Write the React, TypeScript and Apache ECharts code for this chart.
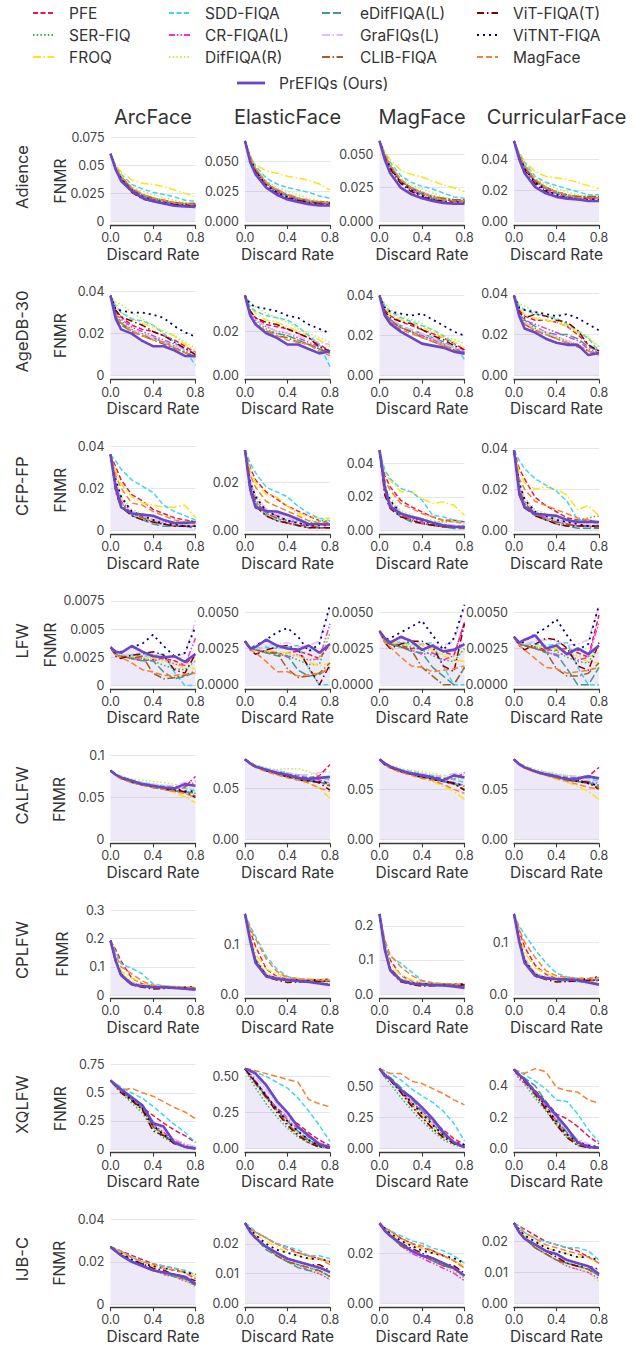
import React, { useEffect, useRef } from "react";
import * as echarts from "echarts";

// ---------------- data ----------------
const DISCARD_RATES = [0, 0.05, 0.1, 0.2, 0.3, 0.4, 0.5, 0.6, 0.7, 0.8];
const X_TICK_LABELS = ["0.0", "0.4", "0.8"];
const MODELS = ["ArcFace", "ElasticFace", "MagFace", "CurricularFace"];
const DATASETS = ["Adience", "AgeDB-30", "CFP-FP", "LFW", "CALFW", "CPLFW", "XQLFW", "IJB-C"];
const METHODS = [
  "PFE", "SER-FIQ", "FROQ", "SDD-FIQA", "CR-FIQA(L)", "DifFIQA(R)",
  "eDifFIQA(L)", "GraFIQs(L)", "CLIB-FIQA", "ViT-FIQA(T)", "ViTNT-FIQA", "MagFace", "PrEFIQs (Ours)",
];

// y tick labels [dataset][model]
const Y_TICK_LABELS = [
  [["0", "0.025", "0.05", "0.075"], ["0.000", "0.025", "0.050"], ["0.000", "0.025", "0.050"], ["0.00", "0.02", "0.04"]],
  [["0", "0.02", "0.04"], ["0.00", "0.02"], ["0.00", "0.02", "0.04"], ["0.00", "0.02", "0.04"]],
  [["0", "0.02", "0.04"], ["0.00", "0.02"], ["0.00", "0.02", "0.04"], ["0.00", "0.02", "0.04"]],
  [["0", "0.0025", "0.005", "0.0075"], ["0.0000", "0.0025", "0.0050"], ["0.0000", "0.0025", "0.0050"], ["0.0000", "0.0025", "0.0050"]],
  [["0", "0.05", "0.1"], ["0.00", "0.05"], ["0.00", "0.05"], ["0.00", "0.05"]],
  [["0", "0.1", "0.2", "0.3"], ["0.0", "0.1"], ["0.0", "0.1", "0.2"], ["0.0", "0.1"]],
  [["0", "0.25", "0.5", "0.75"], ["0.00", "0.25", "0.50"], ["0.00", "0.25", "0.50"], ["0.0", "0.2", "0.4"]],
  [["0", "0.02", "0.04"], ["0.00", "0.01", "0.02"], ["0.00", "0.02"], ["0.00", "0.01", "0.02"]],
];

// FNMR per method (METHODS order) at DISCARD_RATES
const ADIENCE_ARCFACE = [
  [.06, .047, .039, .029, .023, .02, .018, .016, .015, .015],
  [.06, .048, .04, .03, .024, .021, .019, .017, .016, .016],
  [.06, .05, .044, .037, .034, .033, .031, .028, .025, .022],
  [.06, .049, .042, .033, .029, .026, .024, .022, .019, .018],
  [.06, .047, .039, .029, .023, .019, .017, .015, .014, .014],
  [.06, .049, .041, .031, .027, .024, .021, .019, .017, .016],
  [.06, .047, .039, .029, .023, .02, .018, .016, .015, .015],
  [.06, .048, .04, .03, .025, .021, .019, .017, .016, .016],
  [.06, .047, .039, .029, .024, .021, .019, .017, .016, .016],
  [.06, .046, .037, .026, .02, .018, .016, .015, .015, .015],
  [.06, .047, .038, .028, .022, .019, .017, .015, .014, .014],
  [.06, .048, .04, .03, .024, .021, .019, .017, .016, .015],
  [.06, .046, .036, .027, .021, .018, .016, .014, .0135, .013],
];
const ADIENCE_ELASTICFACE = [
  [.067, .052, .043, .031, .025, .021, .018, .016, .015, .015],
  [.067, .053, .044, .032, .026, .022, .019, .017, .016, .016],
  [.067, .054, .047, .042, .04, .0375, .036, .034, .031, .026],
  [.067, .054, .046, .036, .031, .028, .026, .024, .021, .019],
  [.067, .052, .043, .031, .024, .02, .017, .015, .014, .014],
  [.067, .053, .045, .034, .028, .025, .022, .019, .017, .016],
  [.067, .052, .043, .031, .025, .021, .018, .016, .015, .015],
  [.067, .053, .044, .033, .027, .023, .02, .018, .016, .016],
  [.067, .052, .043, .032, .026, .022, .019, .017, .016, .016],
  [.067, .051, .041, .029, .023, .019, .017, .016, .015, .015],
  [.067, .052, .042, .03, .024, .02, .017, .015, .014, .014],
  [.067, .053, .044, .032, .026, .022, .019, .017, .016, .015],
  [.067, .049, .039, .028, .022, .018, .016, .014, .013, .013],
];
const ADIENCE_MAGFACE = [
  [.06, .049, .041, .03, .024, .021, .018, .016, .015, .015],
  [.06, .05, .042, .031, .025, .022, .019, .017, .016, .016],
  [.06, .052, .046, .038, .035, .033, .03, .027, .025, .022],
  [.06, .051, .044, .034, .029, .026, .024, .021, .018, .017],
  [.06, .049, .041, .029, .023, .019, .016, .014, .013, .013],
  [.06, .051, .043, .032, .027, .024, .021, .018, .016, .016],
  [.06, .049, .041, .03, .024, .02, .017, .015, .015, .015],
  [.06, .05, .042, .031, .025, .022, .019, .017, .016, .016],
  [.06, .049, .041, .03, .025, .021, .018, .017, .016, .016],
  [.06, .048, .039, .028, .022, .018, .016, .015, .015, .015],
  [.06, .049, .04, .029, .023, .019, .016, .014, .014, .014],
  [.06, .05, .042, .031, .025, .021, .018, .016, .015, .015],
  [.06, .046, .036, .025, .02, .017, .015, .0135, .013, .013],
];
const ADIENCE_CURRICULARFACE = [
  [.052, .042, .035, .026, .021, .018, .016, .015, .015, .015],
  [.052, .043, .036, .027, .022, .019, .017, .016, .016, .016],
  [.052, .044, .039, .032, .029, .028, .027, .025, .023, .021],
  [.052, .044, .038, .029, .025, .023, .021, .019, .017, .017],
  [.052, .042, .035, .025, .02, .017, .015, .014, .014, .014],
  [.052, .043, .037, .028, .024, .021, .019, .017, .016, .016],
  [.052, .042, .035, .026, .021, .018, .016, .015, .015, .015],
  [.052, .043, .036, .027, .022, .019, .017, .016, .016, .016],
  [.052, .042, .035, .026, .022, .019, .017, .016, .016, .016],
  [.052, .041, .033, .024, .019, .016, .015, .014, .015, .015],
  [.052, .042, .034, .025, .02, .017, .015, .014, .014, .014],
  [.052, .043, .036, .027, .022, .019, .017, .015, .015, .015],
  [.052, .04, .031, .022, .018, .0157, .0145, .014, .013, .013],
];

const AGEDB_ARCFACE = [
  [.038, .031, .028, .024, .022, .021, .019, .017, .014, .011],
  [.038, .03, .026, .022, .02, .018, .016, .014, .012, .01],
  [.038, .034, .03, .027, .025, .023, .021, .019, .015, .012],
  [.038, .033, .03, .027, .026, .024, .02, .016, .012, .005],
  [.038, .03, .027, .023, .021, .019, .017, .015, .013, .011],
  [.038, .035, .034, .03, .027, .024, .021, .019, .016, .013],
  [.038, .028, .024, .021, .019, .018, .016, .014, .011, .009],
  [.038, .029, .025, .022, .02, .018, .016, .014, .012, .011],
  [.038, .029, .025, .021, .019, .017, .015, .013, .011, .009],
  [.038, .031, .028, .026, .024, .021, .019, .016, .013, .01],
  [.038, .0315, .031, .03, .03, .029, .0275, .0236, .0206, .0185],
  [.038, .029, .025, .021, .019, .017, .016, .013, .011, .009],
  [.038, .027, .022, .02, .0165, .014, .014, .012, .0094, .0092],
];
const AGEDB_ELASTICFACE = [
  [.036, .029, .026, .023, .022, .021, .019, .017, .014, .011],
  [.036, .028, .024, .021, .019, .018, .016, .014, .012, .01],
  [.036, .031, .028, .025, .024, .022, .02, .018, .016, .013],
  [.036, .031, .029, .027, .026, .025, .022, .018, .014, .004],
  [.036, .028, .025, .022, .02, .019, .017, .015, .013, .011],
  [.036, .033, .031, .028, .026, .024, .021, .019, .017, .015],
  [.036, .027, .023, .02, .019, .018, .016, .014, .012, .01],
  [.036, .028, .025, .022, .02, .019, .018, .016, .015, .014],
  [.036, .027, .023, .02, .018, .017, .015, .014, .012, .01],
  [.036, .029, .026, .024, .023, .021, .019, .017, .013, .011],
  [.036, .032, .031, .03, .029, .027, .026, .023, .021, .019],
  [.036, .027, .023, .02, .018, .016, .015, .014, .011, .009],
  [.036, .027, .023, .019, .017, .014, .014, .012, .01, .011],
];
const AGEDB_MAGFACE = [
  [.04, .033, .03, .027, .025, .023, .021, .019, .016, .013],
  [.04, .031, .028, .024, .022, .02, .018, .016, .013, .011],
  [.04, .034, .031, .028, .026, .024, .022, .019, .017, .014],
  [.04, .035, .032, .029, .027, .025, .023, .02, .016, .008],
  [.04, .031, .028, .024, .022, .02, .018, .016, .014, .012],
  [.04, .036, .033, .03, .028, .026, .023, .02, .018, .016],
  [.04, .031, .028, .025, .023, .021, .019, .017, .014, .011],
  [.04, .032, .029, .025, .023, .021, .019, .016, .014, .013],
  [.04, .031, .027, .024, .022, .019, .017, .015, .013, .011],
  [.04, .032, .029, .027, .026, .023, .02, .018, .015, .013],
  [.04, .034, .032, .031, .03, .031, .028, .025, .022, .02],
  [.04, .03, .027, .023, .021, .019, .017, .015, .013, .011],
  [.04, .03, .026, .022, .019, .016, .015, .014, .012, .011],
];
const AGEDB_CURRICULARFACE = [
  [.039, .032, .029, .027, .027, .026, .024, .02, .015, .012],
  [.039, .03, .026, .023, .021, .019, .017, .015, .012, .011],
  [.039, .033, .03, .028, .027, .026, .024, .021, .018, .014],
  [.039, .034, .032, .03, .029, .028, .025, .022, .018, .012],
  [.039, .03, .027, .025, .023, .021, .019, .017, .013, .011],
  [.039, .035, .034, .031, .029, .027, .025, .022, .019, .014],
  [.039, .03, .027, .024, .021, .02, .02, .018, .014, .012],
  [.039, .03, .026, .023, .021, .019, .017, .015, .012, .01],
  [.039, .029, .025, .022, .02, .018, .016, .014, .012, .01],
  [.039, .031, .028, .03, .029, .027, .026, .022, .015, .012],
  [.039, .033, .032, .031, .03, .029, .03, .028, .025, .022],
  [.039, .029, .025, .022, .02, .018, .016, .015, .012, .01],
  [.039, .029, .023, .021, .018, .016, .015, .015, .01, .011],
];

const CFPFP_ARCFACE = [
  [.036, .03, .024, .017, .014, .01, .008, .006, .005, .004],
  [.036, .02, .013, .008, .006, .004, .004, .004, .004, .005],
  [.036, .028, .022, .016, .013, .012, .011, .011, .012, .006],
  [.036, .033, .029, .024, .021, .018, .012, .009, .007, .005],
  [.036, .022, .014, .009, .007, .005, .004, .003, .002, .002],
  [.036, .024, .016, .01, .008, .006, .005, .004, .004, .004],
  [.036, .02, .012, .007, .005, .003, .002, .002, .002, .001],
  [.036, .023, .015, .009, .007, .005, .004, .003, .003, .002],
  [.036, .022, .013, .008, .006, .004, .003, .002, .002, .002],
  [.036, .018, .011, .007, .005, .004, .003, .002, .002, .002],
  [.036, .024, .016, .009, .007, .005, .003, .003, .002, .002],
  [.036, .026, .02, .013, .012, .009, .007, .005, .004, .003],
  [.036, .02, .011, .008, .0075, .007, .005, .0035, .0035, .004],
];
const CFPFP_ELASTICFACE = [
  [.0335, .026, .021, .016, .013, .01, .008, .006, .004, .003],
  [.0335, .018, .012, .007, .005, .004, .004, .003, .004, .004],
  [.0335, .025, .02, .015, .014, .01, .007, .006, .005, .005],
  [.0335, .028, .024, .018, .016, .014, .01, .007, .005, .004],
  [.0335, .02, .013, .008, .006, .004, .003, .002, .001, .001],
  [.0335, .021, .015, .009, .007, .006, .005, .004, .004, .004],
  [.0335, .018, .011, .006, .004, .003, .002, .001, .001, .001],
  [.0335, .021, .014, .009, .007, .005, .004, .003, .003, .002],
  [.0335, .019, .012, .007, .005, .003, .002, .002, .001, .001],
  [.0335, .016, .01, .006, .004, .003, .002, .001, .001, .001],
  [.0335, .02, .014, .008, .006, .004, .003, .002, .002, .002],
  [.0335, .023, .018, .012, .01, .008, .006, .004, .003, .003],
  [.0335, .017, .0095, .008, .0078, .0064, .0046, .0025, .0025, .0024],
];
const CFPFP_MAGFACE = [
  [.048, .033, .026, .018, .014, .011, .008, .006, .006, .005],
  [.048, .025, .017, .01, .008, .006, .005, .005, .005, .005],
  [.048, .034, .03, .023, .023, .019, .016, .017, .015, .009],
  [.048, .036, .031, .025, .023, .018, .009, .008, .006, .005],
  [.048, .024, .016, .009, .007, .005, .003, .002, .002, .002],
  [.048, .028, .02, .012, .009, .007, .006, .005, .005, .004],
  [.048, .022, .014, .008, .005, .004, .003, .002, .001, .001],
  [.048, .026, .018, .011, .008, .006, .005, .004, .003, .003],
  [.048, .024, .015, .009, .006, .004, .003, .002, .002, .001],
  [.048, .021, .013, .008, .006, .004, .003, .002, .002, .002],
  [.048, .026, .018, .01, .008, .006, .004, .003, .002, .002],
  [.048, .03, .024, .016, .013, .01, .008, .006, .005, .004],
  [.048, .026, .014, .01, .008, .0065, .0045, .003, .002, .002],
];
const CFPFP_CURRICULARFACE = [
  [.039, .03, .025, .016, .012, .009, .006, .005, .005, .004],
  [.039, .02, .013, .008, .006, .005, .004, .005, .006, .007],
  [.039, .028, .023, .02, .021, .02, .017, .01, .012, .007],
  [.039, .034, .03, .025, .022, .019, .014, .005, .004, .003],
  [.039, .021, .014, .008, .006, .004, .003, .002, .002, .002],
  [.039, .023, .016, .01, .008, .006, .005, .004, .004, .004],
  [.039, .019, .012, .007, .005, .003, .002, .001, .001, .001],
  [.039, .022, .015, .009, .007, .005, .004, .003, .003, .003],
  [.039, .02, .013, .008, .005, .004, .003, .002, .002, .001],
  [.039, .017, .011, .007, .005, .003, .002, .002, .002, .002],
  [.039, .023, .015, .009, .007, .005, .004, .003, .002, .002],
  [.039, .025, .02, .014, .012, .01, .008, .006, .005, .004],
  [.039, .018, .011, .008, .0075, .007, .005, .004, .004, .004],
];

const LFW_ARCFACE = [
  [.0034, .0028, .0026, .0024, .0022, .0023, .0024, .0022, .0018, .0029],
  [.0034, .0027, .0026, .0025, .0024, .0022, .0018, .0015, .0014, .0022],
  [.0034, .0027, .0027, .0026, .0026, .0025, .0022, .0019, .0016, .0015],
  [.0034, .0028, .0027, .0027, .0026, .0027, .0028, .0012, 0, 0],
  [.0034, .0027, .0026, .0025, .0024, .0022, .0024, .0019, .0018, .0042],
  [.0034, .0027, .0026, .0025, .0024, .0023, .0022, .002, .0019, .0021],
  [.0034, .0027, .0026, .0024, .0022, .0022, .0012, .0006, .0008, .0012],
  [.0034, .0028, .0027, .0028, .0029, .0028, .0025, .0026, .0028, .0057],
  [.0034, .0027, .0026, .0024, .0026, .0011, .0006, .0007, .0009, .0013],
  [.0034, .0026, .0024, .0027, .0028, .003, .0027, .0014, .0011, .0028],
  [.0034, .0029, .003, .0034, .0037, .0045, .0035, .0026, .0029, .0052],
  [.0034, .0027, .0025, .002, .0014, .0012, .0009, .0009, .001, .0011],
  [.0034, .003, .0029, .0035, .003, .0026, .0025, .0026, .0021, .0028],
];
const LFW_ELASTICFACE = [
  [.003, .0025, .0024, .0023, .0021, .0022, .0023, .0021, .0018, .0028],
  [.003, .0025, .0024, .0023, .0022, .002, .0017, .0014, .0014, .0036],
  [.003, .0024, .0024, .0023, .0023, .0022, .002, .0016, .0013, .0015],
  [.003, .0026, .0025, .0026, .0025, .0026, .0027, .0011, 0, 0],
  [.003, .0025, .0024, .0023, .0022, .0019, .0021, .0017, .0018, .0042],
  [.003, .0025, .0024, .0023, .0022, .0021, .002, .0018, .0018, .0036],
  [.003, .0025, .0024, .0022, .002, .002, .001, .0006, .0007, .0012],
  [.003, .0025, .0024, .0027, .0028, .0029, .0026, .0027, .003, .0052],
  [.003, .0025, .0024, .0022, .0022, .0011, .0005, .0006, .0008, .0015],
  [.003, .0024, .0021, .0024, .0026, .0027, .0024, .0012, 0, .0014],
  [.003, .0025, .0027, .0031, .0036, .0039, .0033, .0023, .0028, .0055],
  [.003, .0024, .0022, .0016, .0009, .0009, .0006, .0007, .0008, .0011],
  [.003, .0025, .0026, .0031, .0027, .0025, .0024, .0027, .0022, .0028],
];
const LFW_MAGFACE = [
  [.0037, .003, .0029, .0027, .0025, .0025, .0026, .0023, .002, .0043],
  [.0037, .003, .0028, .0027, .0026, .0024, .002, .0017, .0016, .0025],
  [.0037, .003, .0029, .0028, .0028, .0027, .0024, .002, .0017, .0016],
  [.0037, .0031, .003, .0029, .0028, .0028, .0029, .0013, 0, 0],
  [.0037, .003, .0028, .0026, .0024, .0021, .0022, .0017, .002, .0043],
  [.0037, .003, .0029, .0028, .0027, .0025, .0023, .0021, .002, .0023],
  [.0037, .003, .0028, .0026, .0023, .0022, .0012, .0006, 0, .0012],
  [.0037, .0031, .003, .0032, .0031, .0028, .0026, .0027, .003, .0053],
  [.0037, .003, .0028, .0026, .0024, .0012, .0006, 0, 0, .0012],
  [.0037, .0029, .0025, .0028, .003, .003, .0026, .0013, .0009, .0042],
  [.0037, .0031, .0032, .0036, .004, .0044, .0034, .0024, .0032, .0055],
  [.0037, .0029, .0026, .0019, .0013, .0012, .0009, .001, .0011, .0013],
  [.0037, .0032, .0029, .0033, .003, .0024, .0027, .0023, .0024, .0028],
];
const LFW_CURRICULARFACE = [
  [.0033, .0028, .0027, .0026, .0024, .0024, .0025, .0022, .0019, .0048],
  [.0033, .0028, .0027, .0026, .0025, .0023, .0019, .0016, .0015, .0028],
  [.0033, .0028, .0027, .0027, .0026, .0025, .0022, .0019, .0016, .0015],
  [.0033, .0029, .0028, .0028, .0027, .0028, .0029, .0012, 0, 0],
  [.0033, .0028, .0027, .0025, .0023, .002, .0022, .0017, .0019, .0043],
  [.0033, .0028, .0027, .0026, .0025, .0024, .0022, .002, .0019, .0022],
  [.0033, .0028, .0027, .0025, .0022, .0021, .0011, 0, 0, .0012],
  [.0033, .0029, .0028, .003, .0031, .003, .0027, .0028, .0031, .0054],
  [.0033, .0028, .0027, .0025, .0023, .0011, .0006, .0006, .0008, .0015],
  [.0033, .0027, .0024, .0028, .0032, .0031, .0025, .0013, .001, .0029],
  [.0033, .0028, .003, .0035, .0039, .0045, .0034, .0024, .0028, .0055],
  [.0033, .0027, .0024, .0018, .0012, .0011, .0008, .0009, .001, .0012],
  [.0033, .0029, .0031, .0034, .0025, .0027, .0021, .0025, .0021, .0027],
];

const CALFW_ARCFACE = [
  [.082, .077, .074, .07, .067, .065, .063, .061, .063, .075],
  [.082, .077, .073, .069, .066, .063, .061, .059, .057, .055],
  [.082, .077, .074, .069, .067, .064, .06, .056, .051, .044],
  [.082, .078, .075, .071, .068, .066, .064, .063, .061, .058],
  [.082, .077, .073, .069, .066, .063, .061, .06, .062, .069],
  [.082, .078, .076, .072, .071, .069, .068, .066, .062, .06],
  [.082, .077, .073, .068, .065, .062, .06, .058, .057, .055],
  [.082, .077, .074, .07, .068, .066, .065, .064, .068, .07],
  [.082, .077, .073, .068, .065, .062, .06, .058, .056, .052],
  [.082, .077, .073, .069, .066, .063, .061, .059, .057, .05],
  [.082, .077, .073, .069, .066, .063, .061, .06, .058, .057],
  [.082, .076, .072, .068, .065, .062, .06, .057, .055, .05],
  [.082, .077, .074, .07, .066, .064, .062, .061, .066, .064],
];
const CALFW_ELASTICFACE = [
  [.078, .075, .072, .068, .066, .064, .062, .06, .062, .073],
  [.078, .074, .071, .067, .064, .061, .059, .058, .056, .054],
  [.078, .074, .071, .067, .064, .062, .059, .055, .05, .04],
  [.078, .075, .072, .069, .067, .065, .063, .061, .06, .058],
  [.078, .074, .071, .067, .064, .062, .06, .059, .058, .055],
  [.078, .075, .073, .07, .068, .069, .069, .066, .062, .058],
  [.078, .074, .071, .067, .064, .061, .059, .057, .056, .053],
  [.078, .074, .072, .069, .067, .065, .063, .063, .065, .066],
  [.078, .074, .071, .067, .064, .061, .058, .057, .056, .052],
  [.078, .074, .071, .067, .065, .062, .06, .058, .055, .048],
  [.078, .074, .071, .067, .064, .061, .058, .057, .056, .055],
  [.078, .073, .07, .066, .063, .06, .058, .055, .05, .047],
  [.078, .074, .071, .068, .065, .063, .06, .059, .06, .061],
];
const CALFW_MAGFACE = [
  [.08, .076, .073, .069, .067, .065, .063, .061, .06, .067],
  [.08, .075, .072, .068, .065, .062, .06, .058, .056, .053],
  [.08, .075, .072, .068, .065, .062, .058, .053, .048, .04],
  [.08, .076, .073, .07, .068, .066, .064, .062, .06, .057],
  [.08, .075, .072, .068, .065, .063, .061, .059, .057, .054],
  [.08, .076, .074, .071, .069, .068, .066, .064, .062, .06],
  [.08, .075, .072, .068, .065, .062, .06, .058, .056, .05],
  [.08, .076, .073, .07, .067, .066, .064, .063, .066, .065],
  [.08, .075, .072, .068, .065, .062, .06, .058, .055, .05],
  [.08, .075, .072, .068, .065, .063, .061, .059, .056, .049],
  [.08, .075, .072, .068, .065, .062, .06, .058, .056, .054],
  [.08, .075, .071, .067, .064, .061, .059, .055, .05, .046],
  [.08, .076, .073, .069, .066, .064, .062, .059, .064, .062],
];
const CALFW_CURRICULARFACE = [
  [.08, .076, .073, .069, .066, .064, .062, .06, .063, .072],
  [.08, .075, .072, .068, .065, .062, .06, .058, .056, .054],
  [.08, .075, .071, .067, .064, .06, .057, .053, .048, .04],
  [.08, .076, .073, .069, .067, .065, .063, .062, .061, .058],
  [.08, .075, .072, .068, .065, .062, .06, .059, .058, .056],
  [.08, .076, .074, .07, .068, .066, .064, .063, .062, .06],
  [.08, .075, .072, .068, .065, .062, .06, .058, .057, .054],
  [.08, .076, .073, .069, .067, .065, .064, .063, .064, .062],
  [.08, .075, .072, .068, .065, .062, .059, .058, .056, .052],
  [.08, .075, .072, .068, .065, .063, .061, .059, .057, .05],
  [.08, .075, .072, .068, .065, .062, .06, .058, .056, .054],
  [.08, .075, .071, .067, .064, .061, .058, .055, .052, .05],
  [.08, .075, .072, .068, .065, .063, .06, .061, .063, .061],
];

const CPLFW_ARCFACE = [
  [.192, .16, .12, .06, .04, .033, .03, .028, .027, .026],
  [.192, .12, .075, .042, .034, .03, .028, .026, .024, .022],
  [.192, .13, .085, .06, .045, .035, .033, .032, .03, .028],
  [.192, .15, .11, .095, .075, .04, .033, .03, .028, .02],
  [.192, .12, .075, .042, .034, .03, .029, .027, .026, .025],
  [.192, .125, .08, .045, .036, .032, .03, .028, .027, .026],
  [.192, .118, .072, .04, .032, .028, .027, .025, .023, .021],
  [.192, .125, .08, .046, .037, .033, .031, .029, .028, .027],
  [.192, .12, .075, .042, .034, .03, .029, .027, .026, .025],
  [.192, .115, .068, .037, .028, .022, .024, .025, .025, .026],
  [.192, .12, .073, .04, .033, .03, .029, .028, .028, .029],
  [.192, .14, .1, .075, .05, .035, .032, .03, .028, .025],
  [.192, .12, .07, .038, .032, .028, .028, .026, .023, .02],
];
const CPLFW_ELASTICFACE = [
  [.16, .125, .095, .05, .035, .03, .028, .027, .026, .026],
  [.16, .11, .068, .038, .031, .028, .026, .024, .022, .02],
  [.16, .12, .08, .05, .04, .033, .032, .03, .03, .03],
  [.16, .135, .115, .075, .05, .035, .03, .028, .027, .026],
  [.16, .11, .068, .038, .032, .029, .028, .027, .027, .028],
  [.16, .115, .072, .04, .033, .03, .029, .028, .026, .02],
  [.16, .108, .065, .036, .03, .027, .025, .024, .022, .02],
  [.16, .115, .072, .041, .034, .031, .03, .029, .028, .028],
  [.16, .11, .068, .038, .032, .029, .028, .027, .026, .025],
  [.16, .105, .062, .034, .028, .023, .024, .025, .025, .026],
  [.16, .11, .066, .037, .031, .029, .028, .028, .028, .029],
  [.16, .13, .11, .07, .045, .033, .03, .029, .028, .027],
  [.16, .105, .062, .035, .03, .028, .026, .024, .021, .018],
];
const CPLFW_MAGFACE = [
  [.235, .15, .1, .055, .038, .032, .03, .028, .027, .026],
  [.235, .135, .075, .042, .032, .029, .027, .025, .022, .02],
  [.235, .14, .09, .055, .042, .034, .032, .031, .03, .03],
  [.235, .15, .11, .09, .065, .04, .033, .03, .028, .027],
  [.235, .135, .075, .042, .033, .03, .029, .028, .027, .028],
  [.235, .14, .08, .045, .035, .031, .03, .028, .026, .02],
  [.235, .13, .072, .04, .031, .028, .026, .025, .023, .02],
  [.235, .14, .08, .046, .036, .032, .031, .03, .029, .029],
  [.235, .135, .075, .042, .033, .03, .029, .028, .027, .026],
  [.235, .13, .068, .036, .028, .023, .024, .026, .026, .027],
  [.235, .135, .073, .04, .032, .03, .029, .028, .028, .029],
  [.235, .16, .115, .08, .055, .038, .032, .03, .029, .028],
  [.235, .13, .07, .04, .03, .028, .026, .025, .022, .018],
];
const CPLFW_CURRICULARFACE = [
  [.154, .12, .09, .055, .038, .03, .029, .028, .027, .027],
  [.154, .105, .065, .038, .031, .028, .026, .024, .022, .018],
  [.154, .115, .08, .05, .04, .033, .032, .031, .031, .032],
  [.154, .13, .115, .085, .06, .04, .033, .03, .028, .027],
  [.154, .105, .065, .038, .032, .029, .028, .027, .027, .028],
  [.154, .11, .07, .04, .033, .03, .029, .028, .026, .02],
  [.154, .102, .062, .036, .03, .027, .025, .024, .022, .02],
  [.154, .11, .07, .041, .034, .031, .03, .029, .029, .03],
  [.154, .105, .065, .038, .032, .029, .028, .027, .026, .025],
  [.154, .1, .06, .034, .028, .023, .024, .025, .026, .027],
  [.154, .105, .064, .037, .031, .029, .028, .028, .029, .033],
  [.154, .125, .1, .07, .045, .035, .032, .03, .03, .032],
  [.154, .1, .06, .035, .03, .029, .028, .027, .022, .018],
];

const XQLFW_ARCFACE = [
  [.61, .56, .52, .44, .37, .3, .23, .17, .12, .06],
  [.61, .55, .5, .41, .32, .18, .1, .05, .02, .005],
  [.61, .56, .52, .44, .36, .22, .14, .07, .03, .01],
  [.61, .58, .55, .5, .45, .38, .3, .22, .15, .06],
  [.61, .56, .52, .44, .36, .22, .15, .08, .04, .02],
  [.61, .56, .51, .43, .34, .2, .12, .06, .02, .01],
  [.61, .56, .52, .44, .36, .21, .13, .06, .02, .005],
  [.61, .58, .54, .46, .38, .25, .17, .09, .05, .02],
  [.61, .56, .52, .44, .35, .2, .12, .05, .02, .005],
  [.61, .55, .5, .43, .35, .16, .12, .05, .02, .005],
  [.61, .56, .52, .44, .36, .21, .13, .06, .02, .01],
  [.61, .56, .52, .54, .5, .47, .42, .37, .33, .27],
  [.61, .57, .53, .46, .39, .23, .2, .06, .02, .005],
];
const XQLFW_ELASTICFACE = [
  [.555, .5, .46, .36, .28, .22, .17, .11, .06, .02],
  [.555, .48, .42, .31, .22, .14, .08, .04, .01, .005],
  [.555, .5, .45, .36, .27, .18, .1, .05, .02, .01],
  [.555, .54, .53, .5, .46, .42, .35, .26, .16, .05],
  [.555, .52, .47, .37, .28, .2, .14, .08, .04, .02],
  [.555, .5, .45, .35, .26, .18, .11, .06, .02, .01],
  [.555, .51, .46, .36, .27, .19, .12, .06, .02, .01],
  [.555, .53, .5, .41, .31, .22, .15, .09, .04, .02],
  [.555, .5, .45, .35, .26, .17, .1, .05, .02, .005],
  [.555, .5, .46, .36, .25, .16, .09, .04, .01, .005],
  [.555, .51, .46, .37, .27, .19, .12, .06, .02, .01],
  [.555, .55, .54, .52, .5, .48, .46, .34, .31, .29],
  [.555, .54, .52, .44, .33, .25, .15, .09, .03, .01],
];
const XQLFW_MAGFACE = [
  [.64, .6, .56, .46, .37, .3, .22, .15, .08, .03],
  [.64, .57, .52, .41, .31, .22, .14, .07, .03, .01],
  [.64, .6, .56, .46, .36, .27, .18, .1, .05, .02],
  [.64, .62, .6, .55, .48, .42, .37, .3, .2, .06],
  [.64, .6, .56, .47, .38, .29, .2, .12, .06, .02],
  [.64, .59, .55, .45, .35, .26, .17, .1, .04, .01],
  [.64, .6, .57, .49, .4, .3, .2, .11, .05, .02],
  [.64, .6, .56, .47, .38, .29, .2, .12, .06, .02],
  [.64, .59, .55, .45, .35, .25, .16, .09, .04, .01],
  [.64, .59, .55, .45, .34, .25, .16, .09, .04, .01],
  [.64, .59, .55, .46, .37, .28, .19, .11, .05, .03],
  [.64, .62, .6, .6, .54, .52, .48, .44, .39, .35],
  [.64, .58, .56, .47, .41, .33, .24, .13, .05, .01],
];
const XQLFW_CURRICULARFACE = [
  [.505, .47, .44, .37, .3, .22, .19, .14, .08, .03],
  [.505, .45, .41, .32, .24, .15, .07, .02, .005, .003],
  [.505, .46, .43, .35, .26, .17, .08, .03, .01, .005],
  [.505, .49, .47, .43, .38, .31, .3, .22, .12, .04],
  [.505, .44, .42, .35, .27, .18, .1, .05, .02, .01],
  [.505, .46, .43, .34, .25, .16, .08, .03, .01, .005],
  [.505, .47, .45, .4, .3, .19, .1, .04, .01, .005],
  [.505, .47, .44, .36, .28, .19, .12, .06, .03, .01],
  [.505, .46, .43, .34, .25, .16, .08, .03, .01, .005],
  [.505, .46, .43, .35, .25, .15, .07, .02, .005, .003],
  [.505, .47, .44, .36, .27, .17, .09, .04, .02, .01],
  [.505, .49, .48, .51, .49, .39, .37, .36, .31, .29],
  [.505, .47, .44, .36, .29, .21, .13, .04, .01, .005],
];

const IJBC_ARCFACE = [
  [.027, .026, .025, .023, .021, .019, .018, .017, .015, .012],
  [.027, .025, .023, .02, .018, .016, .015, .013, .012, .009],
  [.027, .026, .024, .022, .02, .018, .017, .016, .016, .013],
  [.027, .026, .025, .022, .02, .019, .018, .017, .016, .014],
  [.027, .025, .023, .02, .018, .016, .014, .013, .011, .009],
  [.027, .025, .023, .02, .018, .016, .014, .013, .011, .008],
  [.027, .025, .023, .02, .018, .016, .015, .013, .012, .009],
  [.027, .025, .023, .021, .019, .017, .016, .014, .013, .011],
  [.027, .025, .023, .02, .018, .016, .015, .014, .012, .01],
  [.027, .025, .023, .021, .019, .017, .016, .014, .013, .011],
  [.027, .025, .024, .021, .019, .018, .017, .016, .015, .014],
  [.027, .026, .025, .022, .02, .019, .017, .016, .015, .012],
  [.027, .025, .023, .02, .018, .016, .015, .014, .013, .0095],
];
const IJBC_ELASTICFACE = [
  [.027, .025, .024, .022, .02, .019, .017, .016, .015, .014],
  [.027, .024, .022, .019, .016, .014, .013, .012, .011, .009],
  [.027, .025, .023, .021, .019, .017, .016, .015, .015, .014],
  [.027, .026, .024, .022, .02, .019, .018, .016, .016, .015],
  [.027, .024, .022, .019, .016, .014, .013, .011, .01, .008],
  [.027, .024, .022, .018, .016, .014, .012, .011, .01, .008],
  [.027, .024, .022, .018, .016, .014, .012, .011, .011, .009],
  [.027, .024, .022, .019, .017, .015, .014, .013, .012, .011],
  [.027, .024, .022, .019, .016, .014, .013, .012, .011, .009],
  [.027, .024, .022, .019, .017, .015, .014, .013, .013, .011],
  [.027, .025, .023, .02, .018, .017, .016, .015, .015, .014],
  [.027, .025, .024, .022, .02, .018, .017, .016, .015, .013],
  [.027, .024, .022, .019, .017, .015, .014, .013, .012, .0105],
];
const IJBC_MAGFACE = [
  [.032, .03, .029, .026, .024, .022, .021, .019, .017, .014],
  [.032, .029, .027, .023, .021, .019, .017, .015, .013, .01],
  [.032, .03, .028, .025, .023, .022, .02, .019, .017, .015],
  [.032, .03, .029, .027, .025, .024, .022, .021, .019, .016],
  [.032, .029, .027, .023, .02, .018, .016, .014, .012, .009],
  [.032, .029, .027, .023, .021, .019, .017, .015, .013, .01],
  [.032, .029, .027, .023, .021, .019, .017, .015, .014, .011],
  [.032, .029, .027, .024, .022, .02, .018, .016, .015, .012],
  [.032, .029, .027, .023, .021, .019, .017, .015, .014, .011],
  [.032, .029, .027, .024, .022, .02, .018, .016, .015, .012],
  [.032, .03, .028, .025, .023, .021, .02, .019, .018, .016],
  [.032, .03, .029, .026, .024, .023, .021, .019, .017, .014],
  [.032, .029, .027, .024, .021, .019, .018, .016, .014, .011],
];
const IJBC_CURRICULARFACE = [
  [.026, .025, .024, .022, .02, .019, .018, .017, .015, .013],
  [.026, .023, .021, .018, .016, .014, .013, .012, .011, .009],
  [.026, .024, .022, .02, .018, .017, .016, .015, .015, .013],
  [.026, .025, .023, .021, .02, .019, .018, .018, .017, .014],
  [.026, .023, .021, .018, .016, .014, .012, .011, .01, .008],
  [.026, .023, .021, .018, .016, .014, .012, .011, .01, .007],
  [.026, .023, .021, .018, .016, .014, .013, .012, .011, .009],
  [.026, .023, .021, .019, .017, .015, .014, .013, .012, .011],
  [.026, .023, .021, .018, .016, .014, .013, .012, .011, .009],
  [.026, .023, .021, .019, .017, .015, .013, .012, .012, .011],
  [.026, .024, .022, .02, .018, .017, .016, .015, .015, .014],
  [.026, .024, .023, .021, .019, .018, .017, .016, .015, .013],
  [.026, .023, .021, .019, .017, .016, .014, .013, .012, .0095],
];

const FNMR = [
  [ADIENCE_ARCFACE, ADIENCE_ELASTICFACE, ADIENCE_MAGFACE, ADIENCE_CURRICULARFACE],
  [AGEDB_ARCFACE, AGEDB_ELASTICFACE, AGEDB_MAGFACE, AGEDB_CURRICULARFACE],
  [CFPFP_ARCFACE, CFPFP_ELASTICFACE, CFPFP_MAGFACE, CFPFP_CURRICULARFACE],
  [LFW_ARCFACE, LFW_ELASTICFACE, LFW_MAGFACE, LFW_CURRICULARFACE],
  [CALFW_ARCFACE, CALFW_ELASTICFACE, CALFW_MAGFACE, CALFW_CURRICULARFACE],
  [CPLFW_ARCFACE, CPLFW_ELASTICFACE, CPLFW_MAGFACE, CPLFW_CURRICULARFACE],
  [XQLFW_ARCFACE, XQLFW_ELASTICFACE, XQLFW_MAGFACE, XQLFW_CURRICULARFACE],
  [IJBC_ARCFACE, IJBC_ELASTICFACE, IJBC_MAGFACE, IJBC_CURRICULARFACE],
];

// ---------------- styles ----------------
const METHOD_STYLES: { color: string; dash: number[] | "solid"; width: number }[] = [
  { color: "#e6194b", dash: [5, 2.5], width: 1.5 },
  { color: "#3cb44b", dash: [1.5, 2.2], width: 1.5 },
  { color: "#ffe119", dash: [8, 2.5, 1.5, 2.5], width: 1.5 },
  { color: "#42d4f4", dash: [5, 2.5], width: 1.5 },
  { color: "#f032e6", dash: [6, 2, 1.5, 2, 1.5, 2], width: 1.5 },
  { color: "#bfef45", dash: [1.5, 2.2], width: 1.5 },
  { color: "#469990", dash: [8, 3], width: 1.5 },
  { color: "#dcbeff", dash: [8, 2.5, 1.5, 2.5], width: 1.5 },
  { color: "#9a6324", dash: [8, 2.5, 1.5, 2.5], width: 1.5 },
  { color: "#800000", dash: [7, 3, 1.5, 3], width: 1.5 },
  { color: "#000075", dash: [2, 4], width: 1.8 },
  { color: "#f58231", dash: [6, 3], width: 1.5 },
  { color: "#6b46c8", dash: "solid", width: 2.6 },
];
const FILL_COLOR = "rgba(107,70,200,0.17)";
const FONT = "Inter, 'Noto Sans', sans-serif";
const TEXT = "#333333";

// layout
const PLOT_LEFT0 = 110.5;
const PLOT_DX = 134.5;
const PLOT_W = 85;
const PLOT_BOTTOM0 = 225;
const PLOT_DY = 154.6;
const PLOT_H = 88;
const FNMR_X = [60, 60, 60, 50, 59, 62, 60, 59];

function buildOption() {
  const grids: any[] = [];
  const xAxes: any[] = [];
  const yAxes: any[] = [];
  const series: any[] = [];
  const elements: any[] = [];

  DATASETS.forEach((ds, r) => {
    const bottom = PLOT_BOTTOM0 + PLOT_DY * r;
    const top = bottom - PLOT_H;
    MODELS.forEach((m, c) => {
      const k = r * 4 + c;
      const left = PLOT_LEFT0 + PLOT_DX * c;
      grids.push({ left, top, width: PLOT_W, height: PLOT_H });
      const panel = FNMR[r][c];
      const labels = Y_TICK_LABELS[r][c];
      const ticks = labels.map(Number);
      let M = 0;
      panel.forEach((s) => s.forEach((v) => (M = Math.max(M, v))));
      const ymin = -0.05 * M;
      const ymax = Math.max(1.05 * M, ticks[ticks.length - 1]);
      xAxes.push({
        type: "value",
        gridIndex: k,
        min: 0,
        max: 0.8,
        interval: 0.4,
        axisLine: { show: true, onZero: false, lineStyle: { color: "#3a3a3a", width: 1.3 } },
        axisTick: { show: true, length: 4, lineStyle: { color: "#3a3a3a", width: 1.1 } },
        splitLine: { show: false },
        axisLabel: {
          margin: 6,
          fontSize: 12.5,
          color: "#444",
          fontFamily: FONT,
          formatter: (v: number) => X_TICK_LABELS[Math.round(v / 0.4)] ?? "",
        },
      });
      yAxes.push({
        type: "value",
        gridIndex: k,
        min: ymin,
        max: ymax,
        axisLine: { show: false },
        axisTick: { show: false, customValues: ticks },
        splitLine: { show: true, lineStyle: { color: "#e6e6e6", width: 1 } },
        axisLabel: {
          customValues: ticks,
          margin: 6,
          fontSize: 12.5,
          color: "#444",
          fontFamily: FONT,
          formatter: (v: number) => {
            let best = 0;
            ticks.forEach((t, i) => {
              if (Math.abs(t - v) < Math.abs(ticks[best] - v)) best = i;
            });
            return labels[best];
          },
        },
      });
      const ours = panel[METHODS.length - 1];
      // shaded area under PrEFIQs
      series.push({
        type: "line",
        xAxisIndex: k,
        yAxisIndex: k,
        data: DISCARD_RATES.map((x, i) => [x, ours[i]]),
        symbol: "none",
        silent: true,
        lineStyle: { width: 0 },
        areaStyle: { color: FILL_COLOR, origin: "auto" },
        z: 1,
      });
      METHODS.forEach((name, s) => {
        const st = METHOD_STYLES[s];
        series.push({
          type: "line",
          name,
          xAxisIndex: k,
          yAxisIndex: k,
          data: DISCARD_RATES.map((x, i) => [x, panel[s][i]]),
          symbol: "none",
          silent: true,
          lineStyle: { color: st.color, width: st.width, type: st.dash, cap: "butt" },
          z: s === METHODS.length - 1 ? 4 : 3,
        });
      });
      // x axis title
      elements.push({
        type: "text",
        x: left + PLOT_W / 2,
        y: bottom + 29,
        style: { text: "Discard Rate", font: `15.5px ${FONT}`, fill: TEXT, textAlign: "center", textVerticalAlign: "middle" },
      });
    });
    const mid = top + PLOT_H / 2;
    elements.push({
      type: "text",
      x: FNMR_X[r],
      y: mid,
      rotation: Math.PI / 2,
      style: { text: "FNMR", font: `15.5px ${FONT}`, fill: TEXT, textAlign: "center", textVerticalAlign: "middle" },
    });
    elements.push({
      type: "text",
      x: 22,
      y: mid - 4,
      rotation: Math.PI / 2,
      style: { text: ds, font: `16.5px ${FONT}`, fill: TEXT, textAlign: "center", textVerticalAlign: "middle" },
    });
  });

  MODELS.forEach((m, c) => {
    elements.push({
      type: "text",
      x: PLOT_LEFT0 + PLOT_DX * c + PLOT_W / 2,
      y: 117,
      style: { text: m, font: `20px ${FONT}`, fill: TEXT, textAlign: "center", textVerticalAlign: "middle" },
    });
  });

  // legend
  const LX = [33, 169, 322, 477];
  const TX = [69, 205, 360, 513];
  const LY = [13, 35, 57];
  METHODS.forEach((name, i) => {
    const st = METHOD_STYLES[i];
    let x1: number, x2: number, tx: number, y: number;
    if (i < 12) {
      const col = Math.floor(i / 3);
      const row = i % 3;
      x1 = LX[col];
      x2 = LX[col] + 21;
      tx = TX[col];
      y = LY[row];
    } else {
      x1 = 237;
      x2 = 265;
      tx = 279;
      y = 83;
    }
    elements.push({
      type: "line",
      shape: { x1, y1: y, x2, y2: y },
      style: {
        stroke: st.color,
        lineWidth: i === 12 ? 2.8 : 2,
        lineDash: st.dash === "solid" ? null : st.dash,
      },
    });
    elements.push({
      type: "text",
      x: tx,
      y,
      style: { text: name, font: `15.5px ${FONT}`, fill: TEXT, textAlign: "left", textVerticalAlign: "middle" },
    });
  });

  return {
    animation: false,
    backgroundColor: "#ffffff",
    grid: grids,
    xAxis: xAxes,
    yAxis: yAxes,
    series,
    graphic: { elements },
  };
}

export default function App() {
  const ref = useRef<HTMLDivElement>(null);
  useEffect(() => {
    if (!ref.current) return;
    const chart = echarts.init(ref.current, null, { renderer: "svg" });
    chart.setOption(buildOption() as any);
    return () => chart.dispose();
  }, []);
  return (
    <div
      ref={ref}
      style={{ position: "absolute", left: 0, top: 0, width: 636, height: 1345, background: "#fff" }}
    />
  );
}
